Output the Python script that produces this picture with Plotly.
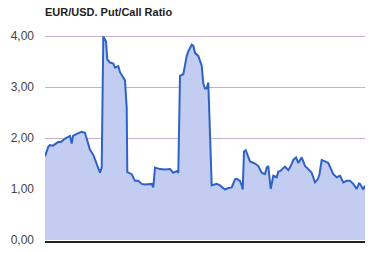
import plotly.graph_objects as go

# sample times (arbitrary time units along the x axis) and ratio values
t = [0, 3.3, 5, 8, 13, 16, 20, 25, 26.7, 28, 31.7, 36.7, 40, 42.3, 45, 48.3, 51.7, 55, 56.7,
     58.3, 61, 62.3, 65, 68.3, 70, 73.3, 75, 77.7, 80, 81.7, 82.3,
     86.7, 90, 93.3, 96.7, 100, 103, 106.7, 108.3, 110, 115, 120, 125, 128.3, 131.7, 133.3,
     135, 138.3, 141.7, 143.3, 146.7, 148.3, 150, 153.3, 156.7, 158.3, 160, 161.7, 163.3,
     166.7, 171.7, 175, 180, 183.3, 186.7, 190, 191.7, 195, 196.7, 197.7, 199, 200.7, 205,
     210, 213.3, 216.7, 220, 221.7, 223.3, 225.7, 228.3, 231.7, 233.3, 235, 240, 243.3, 245.7,
     248.3, 251, 253.3, 256.7, 260, 263.3, 266.7, 270, 272.7, 274.3, 276.7, 280, 283.3, 288.3,
     291.7, 295, 298.3, 301.7, 305, 306.7, 308.3, 311.7, 314, 315, 318.3, 320]
ratio = [1.64, 1.83, 1.86, 1.85, 1.92, 1.92, 1.99, 2.04, 1.89, 2.04, 2.08, 2.12, 2.10, 1.96,
         1.77, 1.67, 1.51, 1.32, 1.42, 3.99, 3.89, 3.54, 3.48, 3.46, 3.38, 3.41, 3.29, 3.19,
         3.13, 2.59, 1.33,
         1.29, 1.16, 1.16, 1.10, 1.09, 1.09, 1.10, 1.03, 1.42, 1.39, 1.38, 1.39, 1.32, 1.35,
         1.32, 3.22, 3.25, 3.61, 3.70, 3.83, 3.81, 3.67, 3.61, 3.42, 3.07, 2.97, 2.97, 3.09,
         1.07, 1.10, 1.07, 0.99, 1.02, 1.03, 1.19, 1.20, 1.16, 1.07, 0.99, 1.73, 1.76, 1.54,
         1.50, 1.45, 1.32, 1.29, 1.42, 1.45, 1.00, 1.26, 1.23, 1.34, 1.35, 1.44, 1.37, 1.45,
         1.57, 1.62, 1.51, 1.62, 1.45, 1.39, 1.32, 1.13, 1.19, 1.27, 1.57, 1.54, 1.51, 1.29,
         1.23, 1.26, 1.13, 1.16, 1.16, 1.13, 1.10, 1.00, 1.11, 1.10, 0.99, 1.07, 1.04, 1.04]

y_ticks = [0, 1, 2, 3, 4]
y_tick_labels = ["0,00", "1,00", "2,00", "3,00", "4,00"]
title_text = "EUR/USD. Put/Call Ratio"

fig = go.Figure()
fig.add_trace(go.Scatter(
    x=t, y=ratio, mode="lines",
    line=dict(color="#2f62c8", width=2),
    fill="tozeroy", fillcolor="#c3cdf1",
    hoverinfo="skip",
))

fig.update_layout(
    width=373, height=253,
    margin=dict(l=45, r=8, t=35, b=6),
    paper_bgcolor="white", plot_bgcolor="white",
    showlegend=False,
    font=dict(family="Liberation Sans, Arial, sans-serif", size=11, color="#444444"),
    title=dict(text="<b>" + title_text + "</b>", x=0, xref="paper", xanchor="left",
               y=1 - 12 / 253, yref="container", yanchor="middle",
               font=dict(size=11, color="#222222")),
    xaxis=dict(range=[0, 320], showgrid=False, zeroline=False, showticklabels=False,
               ticks="", showline=True, linecolor="#222222", linewidth=1.5),
    yaxis=dict(range=[-0.02, 4.02], tickmode="array", tickvals=y_ticks, ticktext=y_tick_labels,
               showgrid=True, ticklabeloverflow="allow",
               gridcolor="rgba(150,110,160,0.55)", gridwidth=1, zeroline=False,
               ticks="", ticklabelstandoff=10, layer="above traces",
               tickfont=dict(size=12, color="#444444")),
)
fig.write_html("out.html")
